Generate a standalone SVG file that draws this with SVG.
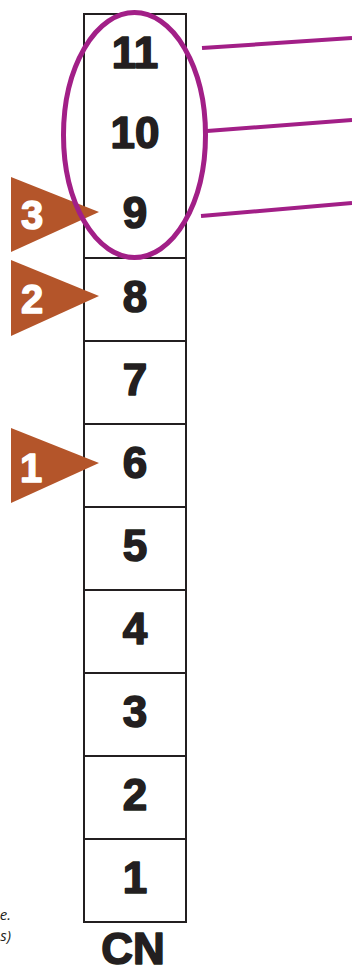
<svg xmlns="http://www.w3.org/2000/svg" width="352" height="968" viewBox="0 0 352 968">
<style>
.cell{fill:#fff;stroke:#231f20;stroke-width:2}
.num{font-family:"Liberation Sans",Arial,sans-serif;font-weight:bold;font-size:44px;fill:#231f20;stroke:#231f20;stroke-width:1.6;stroke-linejoin:round;text-anchor:middle}
.tri{fill:#b4552a}
.tnum{font-family:"Liberation Sans",Arial,sans-serif;font-weight:bold;font-size:40px;fill:#fff;stroke:#fff;stroke-width:1.4;stroke-linejoin:round;text-anchor:middle}
.pur{fill:none;stroke:#a21f87}
.note{font-family:"Open Sans","DejaVu Sans",sans-serif;font-style:italic;font-size:15px;fill:#231f20;text-anchor:end}
</style>
<rect width="352" height="968" fill="#fff"/>
<g id="pins-9-11">
<rect class="cell" x="84" y="14" width="102" height="244"/>
<text class="num" x="135" y="68">11</text>
<text class="num" x="135" y="148">10</text>
<text class="num" x="135" y="228">9</text>
</g>
<g id="pin-8"><rect class="cell" x="84" y="258" width="102" height="83"/><text class="num" x="135" y="312">8</text></g>
<g id="pin-7"><rect class="cell" x="84" y="341" width="102" height="83"/><text class="num" x="135" y="395">7</text></g>
<g id="pin-6"><rect class="cell" x="84" y="424" width="102" height="83"/><text class="num" x="135" y="478">6</text></g>
<g id="pin-5"><rect class="cell" x="84" y="507" width="102" height="83"/><text class="num" x="135" y="561">5</text></g>
<g id="pin-4"><rect class="cell" x="84" y="590" width="102" height="83"/><text class="num" x="135" y="644">4</text></g>
<g id="pin-3"><rect class="cell" x="84" y="673" width="102" height="83"/><text class="num" x="135" y="727">3</text></g>
<g id="pin-2"><rect class="cell" x="84" y="756" width="102" height="83"/><text class="num" x="135" y="810">2</text></g>
<g id="pin-1"><rect class="cell" x="84" y="839" width="102" height="83"/><text class="num" x="135" y="893">1</text></g>
<g id="label-cn"><text class="num" x="133" y="964" font-size="42">CN</text></g>
<g id="marker-3"><polygon class="tri" points="11,177 99,212 11,252"/><text class="tnum" x="32" y="229">3</text></g>
<g id="marker-2"><polygon class="tri" points="11,260 99,296 11,336"/><text class="tnum" x="32" y="313">2</text></g>
<g id="marker-1"><polygon class="tri" points="11,428 99,463 11,503"/><text class="tnum" x="31" y="482">1</text></g>
<g id="highlight"><ellipse class="pur" cx="134.5" cy="135" rx="71" ry="122.5" stroke-width="5"/></g>
<g id="connectors" class="pur" stroke-width="4">
<line x1="202" y1="48" x2="352" y2="38"/>
<line x1="207" y1="131" x2="352" y2="120"/>
<line x1="201" y1="216" x2="352" y2="203"/>
</g>
<g id="note">
<text class="note" x="11" y="920">e.</text>
<text class="note" x="11" y="941">s)</text>
</g>
</svg>
